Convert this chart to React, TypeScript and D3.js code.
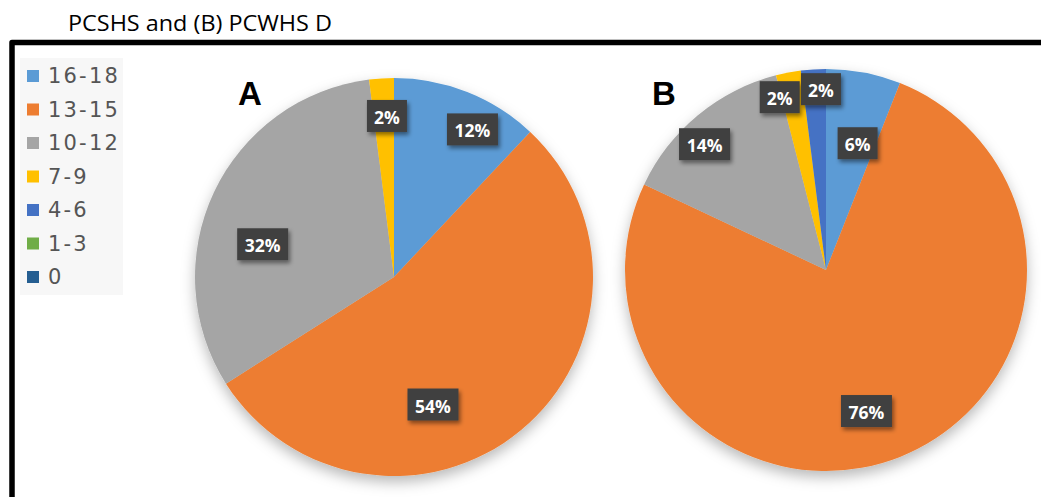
import React from "react";
import * as d3 from "d3";

const categories = ["16-18", "13-15", "10-12", "7-9", "4-6", "1-3", "0"];
const valuesA = [12, 54, 32, 2, 0, 0, 0];
const valuesB = [6, 76, 14, 2, 2, 0, 0];
const colors = ["#5B9BD5", "#ED7D31", "#A5A5A5", "#FFC000", "#4472C4", "#70AD47", "#255E91"];
const titleText = "PCSHS and (B) PCWHS D";
const pieNames = ["A", "B"];

// label layout: [angle in degrees clockwise from top, fraction of radius]
const labelLayoutA: (number[] | null)[] = [[28, 0.84], [163, 0.67], [284, 0.68], [357.5, 0.81], null, null, null];
const labelLayoutB: (number[] | null)[] = [[14, 0.65], [164, 0.73], [316, 0.87], [345, 0.89], [358.4, 0.9], null, null];

const W = 1041;
const H = 497;

type PieProps = {
  cx: number;
  cy: number;
  r: number;
  values: number[];
  layout: (number[] | null)[];
};

function Pie({ cx, cy, r, values, layout }: PieProps) {
  const data = categories.map((c, i) => ({ c, i, v: values[i] }));
  const arcs = d3
    .pie<any>()
    .sort(null)
    .value((d: any) => d.v)
    .startAngle(0)
    .endAngle(2 * Math.PI)(data);
  const arcGen = d3.arc<any>().innerRadius(0).outerRadius(r);
  const total = d3.sum(values);
  return (
    <g transform={`translate(${cx},${cy})`}>
      <g filter="url(#pieShadow)">
        {arcs
          .filter((a) => a.data.v > 0)
          .map((a) => (
            <path key={a.data.c} d={arcGen(a) as string} fill={colors[a.data.i]} />
          ))}
      </g>
      {arcs
        .filter((a) => a.data.v > 0 && layout[a.data.i])
        .map((a) => {
          const [deg, frac] = layout[a.data.i] as number[];
          const ang = (deg * Math.PI) / 180;
          const x = Math.sin(ang) * r * frac;
          const y = -Math.cos(ang) * r * frac;
          const label = `${Math.round((a.data.v / total) * 100)}%`;
          const w = label.length * 11 + 18;
          const h = 32;
          return (
            <g key={"l" + a.data.c} transform={`translate(${x},${y})`}>
              <rect x={-w / 2} y={-h / 2} width={w} height={h} fill="#404040" filter="url(#boxShadow)" />
              <text
                x={0}
                y={1}
                textAnchor="middle"
                dominantBaseline="central"
                fill="#ffffff"
                fontFamily="'Open Sans', sans-serif"
                fontWeight={700}
                fontSize={17.5}
              >
                {label}
              </text>
            </g>
          );
        })}
    </g>
  );
}

export default function App() {
  const legendY0 = 76;
  const legendStep = 33.5;
  return (
    <div style={{ position: "fixed", left: 0, top: 0 }}>
      <svg width={W} height={H} style={{ display: "block", background: "#ffffff" }}>
        <defs>
          <filter id="pieShadow" x="-20%" y="-20%" width="140%" height="140%">
            <feDropShadow dx={0} dy={6} stdDeviation={7} floodColor="#000" floodOpacity={0.28} />
          </filter>
          <filter id="boxShadow" x="-30%" y="-30%" width="160%" height="160%">
            <feDropShadow dx={2} dy={3} stdDeviation={2} floodColor="#000" floodOpacity={0.45} />
          </filter>
        </defs>
        <text
          x={68}
          y={31}
          fontFamily="'Open Sans', sans-serif"
          fontSize={22}
          textLength={264}
          lengthAdjust="spacingAndGlyphs"
          fill="#000"
        >
          {titleText}
        </text>
        <path d={`M 12 ${H + 10} L 12 42.5 L ${W + 10} 42.5`} fill="none" stroke="#000" strokeWidth={5.5} strokeLinejoin="round" />

        <rect x={20} y={58} width={103} height={237} fill="#f7f7f7" />
        {categories.map((c, i) => (
          <g key={c} transform={`translate(0,${legendY0 + i * legendStep})`}>
            <rect x={27} y={-6} width={12} height={12} fill={colors[i]} />
            <text
              x={48}
              y={0}
              dominantBaseline="central"
              fontFamily="'DejaVu Sans', sans-serif"
              fontSize={21}
              letterSpacing={2.2}
              fill="#555555"
            >
              {c}
            </text>
          </g>
        ))}

        <Pie cx={394} cy={277} r={199} values={valuesA} layout={labelLayoutA} />
        <Pie cx={826} cy={270} r={201} values={valuesB} layout={labelLayoutB} />

        <text x={238} y={105} fontFamily="'Liberation Sans', Arial, sans-serif" fontWeight={700} fontSize={33} fill="#000">
          {pieNames[0]}
        </text>
        <text x={652} y={105} fontFamily="'Liberation Sans', Arial, sans-serif" fontWeight={700} fontSize={33} fill="#000">
          {pieNames[1]}
        </text>
      </svg>
    </div>
  );
}
